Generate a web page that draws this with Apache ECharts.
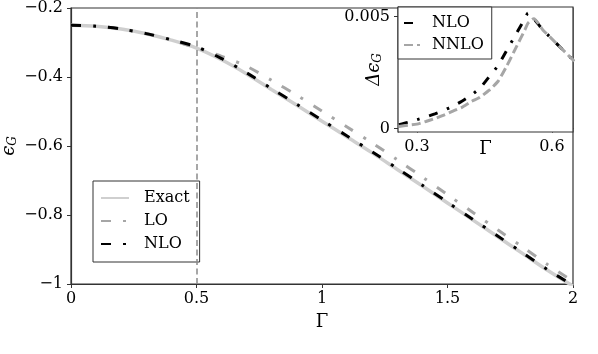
<!DOCTYPE html>
<html>
<head>
<meta charset="utf-8">
<script src="https://cdn.jsdelivr.net/npm/echarts@6/dist/echarts.min.js"></script>
<style>
  html, body { margin: 0; padding: 0; background: #fff; }
  #chart { width: 598px; height: 354px; }
</style>
</head>
<body>
<div id="chart"></div>
<script>
// main panel: ground state energy vs Gamma
const gamma = [0, 0.1, 0.2, 0.3, 0.4, 0.5, 0.6, 0.7, 0.8, 0.9, 1.0,
  1.1, 1.2, 1.3, 1.4, 1.5, 1.6, 1.7, 1.8, 1.9, 2.0]
const exact = [-0.250, -0.2528, -0.261, -0.2745, -0.293, -0.316, -0.350, -0.391, -0.437, -0.482, -0.528,
  -0.574, -0.620, -0.668, -0.716, -0.765, -0.814, -0.863, -0.912, -0.961, -1.006]
const lo = [-0.250, -0.2528, -0.261, -0.2745, -0.293, -0.316, -0.340, -0.369, -0.410, -0.453, -0.499,
  -0.545, -0.591, -0.640, -0.690, -0.741, -0.792, -0.843, -0.893, -0.944, -0.992]
const nlo = [-0.250, -0.2528, -0.261, -0.2742, -0.292, -0.3125, -0.3465, -0.388, -0.434, -0.479, -0.525,
  -0.571, -0.617, -0.665, -0.714, -0.763, -0.812, -0.861, -0.910, -0.959, -1.004]
const xTicks = [0, 0.5, 1, 1.5, 2]

// inset: error of NLO / NNLO
const insetGamma = [0.26, 0.28, 0.30, 0.32, 0.34, 0.36, 0.38, 0.40, 0.42, 0.44, 0.46,
  0.48, 0.50, 0.52, 0.54, 0.547, 0.56, 0.58, 0.60, 0.62, 0.64, 0.65]
const dNLO = [0.00018, 0.00028, 0.0004, 0.00052, 0.00066, 0.00082, 0.001, 0.00122, 0.00148, 0.0018, 0.0023,
  0.0028, 0.0035, 0.0042, 0.0049, 0.00515, 0.0049, 0.0044, 0.0040, 0.0036, 0.0032, 0.0030]
const dNNLO = [0.0001, 0.00015, 0.0002, 0.00032, 0.00045, 0.0006, 0.00078, 0.00095, 0.0012, 0.0014, 0.0017,
  0.0021, 0.0028, 0.0036, 0.0044, 0.0047, 0.0049, 0.0044, 0.0040, 0.0036, 0.0032, 0.0030]
const insetXTicks = [0.3, 0.6]
const insetYTicks = [0, 0.005]

const FONT = 'DejaVu Serif'
const AX = '#333'
const pairs = (xs, ys) => xs.map((x, i) => [x, ys[i]])

const nameRich = {
  e: { fontFamily: FONT, fontSize: 18, fontStyle: 'italic', color: '#000' },
  s: { fontFamily: FONT, fontSize: 12, fontStyle: 'italic', color: '#000', padding: [8, 0, 0, 0] }
}

const chart = echarts.init(document.getElementById('chart'))

const option = {
  animation: false,
  textStyle: { fontFamily: FONT },
  grid: [
    { left: 71, top: 8, width: 502, height: 276, show: true, borderColor: AX, borderWidth: 1.2,
      containLabel: false, outerBoundsMode: 'none' },
    { left: 398, top: 7, width: 175, height: 125, show: true, borderColor: AX, borderWidth: 1.2,
      backgroundColor: '#fff', z: 5, containLabel: false, outerBoundsMode: 'none' }
  ],
  xAxis: [
    {
      type: 'value', gridIndex: 0, min: 0, max: 2, interval: 0.5,
      name: 'Γ', nameLocation: 'middle', nameGap: 29, nameMoveOverlap: false,
      nameTextStyle: { fontFamily: FONT, fontSize: 18, color: '#000' },
      axisLine: { show: true, lineStyle: { color: AX, width: 1.2 } },
      axisTick: { show: true, length: 4, lineStyle: { color: AX } },
      axisLabel: { fontFamily: FONT, fontSize: 16, color: '#000', margin: 7 },
      splitLine: { show: false }
    },
    {
      type: 'value', gridIndex: 1, min: 0.258, max: 0.647,
      name: 'Γ', nameLocation: 'middle', nameGap: 8, nameMoveOverlap: false,
      nameTextStyle: { fontFamily: FONT, fontSize: 18, color: '#000' },
      axisLine: { show: true, lineStyle: { color: AX, width: 1.2 } },
      axisTick: { show: true, length: 4, customValues: insetXTicks, lineStyle: { color: AX } },
      axisLabel: { fontFamily: FONT, fontSize: 16, color: '#000', margin: 7, customValues: insetXTicks },
      splitLine: { show: false }
    }
  ],
  yAxis: [
    {
      type: 'value', gridIndex: 0, min: -1, max: -0.2, interval: 0.2,
      name: '{e|ϵ}{s|G}', nameLocation: 'middle', nameGap: 52, nameRotate: 90, nameMoveOverlap: false,
      nameTextStyle: { rich: nameRich },
      axisLine: { show: true, lineStyle: { color: AX, width: 1.2 } },
      axisTick: { show: true, length: 4, lineStyle: { color: AX } },
      axisLabel: {
        fontFamily: FONT, fontSize: 16, color: '#000', margin: 8,
        formatter: v => {
          const r = Math.round(v * 10) / 10
          return (r < 0 ? '\u2212' : '') + Math.abs(r)
        }
      },
      splitLine: { show: false }
    },
    {
      type: 'value', gridIndex: 1, min: -0.00015, max: 0.00542,
      name: '{e|Δϵ}{s|G}', nameLocation: 'middle', nameGap: 14, nameRotate: 90, nameMoveOverlap: false,
      nameTextStyle: { rich: nameRich },
      axisLine: { show: true, lineStyle: { color: AX, width: 1.2 } },
      axisTick: { show: true, length: 4, customValues: insetYTicks, lineStyle: { color: AX } },
      axisLabel: { fontFamily: FONT, fontSize: 16, color: '#000', margin: 8, customValues: insetYTicks },
      splitLine: { show: false }
    }
  ],
  legend: [
    {
      data: ['Exact', 'LO', 'NLO'],
      orient: 'vertical', left: 93, top: 181,
      itemWidth: 28, itemHeight: 10, itemGap: 7,
      padding: [9, 10, 10, 7],
      backgroundColor: '#fff', borderColor: AX, borderWidth: 1, borderRadius: 0,
      itemStyle: { opacity: 0 },
      textStyle: { fontFamily: FONT, fontSize: 16, color: '#000', lineHeight: 16, padding: [0, 0, 0, 10] }
    },
    {
      data: ['NLO ', 'NNLO'],
      orient: 'vertical', left: 398, top: 7,
      itemWidth: 16, itemHeight: 10, itemGap: 6,
      padding: [8, 8, 6, 5],
      backgroundColor: '#fff', borderColor: AX, borderWidth: 1, borderRadius: 0, z: 10,
      itemStyle: { opacity: 0 },
      textStyle: { fontFamily: FONT, fontSize: 16, color: '#000', lineHeight: 16, padding: [0, 0, 0, 7] }
    }
  ],
  series: [
    {
      name: 'Exact', type: 'line', xAxisIndex: 0, yAxisIndex: 0,
      data: pairs(gamma, exact), smooth: 0.3, symbol: 'none',
      lineStyle: { color: '#cfcfcf', width: 3.5 },
      itemStyle: { color: '#cfcfcf' },
      markLine: {
        silent: true, symbol: 'none', label: { show: false },
        lineStyle: { color: '#8a8a8a', type: [6, 3.5], width: 1.5 },
        data: [{ xAxis: 0.5 }]
      }
    },
    {
      name: 'LO', type: 'line', xAxisIndex: 0, yAxisIndex: 0,
      data: pairs(gamma, lo), smooth: 0.3, symbol: 'none',
      lineStyle: { color: '#a6a6a6', width: 3, type: [10, 12, 3, 12] },
      itemStyle: { color: '#a6a6a6' }
    },
    {
      name: 'NLO', type: 'line', xAxisIndex: 0, yAxisIndex: 0,
      data: pairs(gamma, nlo), smooth: 0.3, symbol: 'none',
      lineStyle: { color: '#000', width: 3, type: [10, 12, 3, 12] },
      itemStyle: { color: '#000' }
    },
    {
      name: 'NLO ', type: 'line', xAxisIndex: 1, yAxisIndex: 1, z: 6,
      data: pairs(insetGamma, dNLO), smooth: 0.2, symbol: 'none',
      lineStyle: { color: '#000', width: 3, type: [9, 10, 2.5, 10] },
      itemStyle: { color: '#000' }
    },
    {
      name: 'NNLO', type: 'line', xAxisIndex: 1, yAxisIndex: 1, z: 6,
      data: pairs(insetGamma, dNNLO), smooth: 0.2, symbol: 'none',
      lineStyle: { color: '#a6a6a6', width: 3, type: [9, 4] },
      itemStyle: { color: '#a6a6a6' }
    }
  ]
}

chart.setOption(option)
</script>
</body>
</html>
